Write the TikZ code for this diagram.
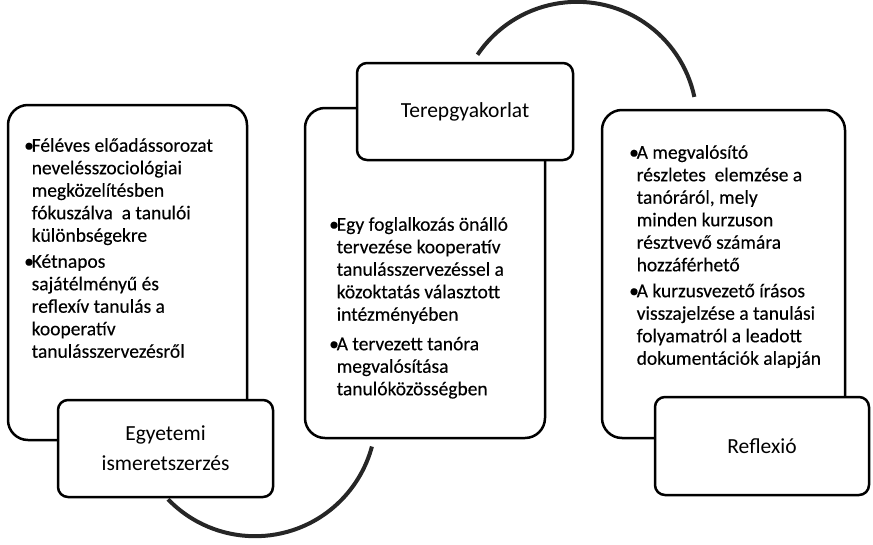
\documentclass[tikz,border=0pt]{standalone}
\usepackage{fontspec}
\setmainfont{Carlito}
\newfontfamily\bodyfont{Carlito}[FakeBold=0.25]
\usetikzlibrary{calc}
\newcommand{\bul}{\makebox[7.5pt][l]{•}}
\newcommand{\ind}{\hspace*{7.5pt}}
\begin{document}
\begin{tikzpicture}[x=1pt,y=-1pt,
  bigbox/.style={draw,line width=2.5pt,rounded corners=20pt,fill=white,inner sep=0pt},
  labelbox/.style={draw,line width=2.5pt,rounded corners=10pt,fill=white,align=center,inner sep=0pt,
    font=\fontsize{21.5}{30}\selectfont},
  bodytext/.style={anchor=north west,align=left,inner sep=0pt,font=\bodyfont\fontsize{19.5}{22.5}\selectfont},
  cyclearc/.style={line width=4pt,draw=black!85}]
\useasboundingbox (0,0) rectangle (873,544);
% big boxes
\node[bigbox,minimum width=239pt,minimum height=335pt] (lbox) at (127.5,272.5) {};
\node[bigbox,minimum width=240pt,minimum height=330pt] (mbox) at (425,273) {};
\node[bigbox,minimum width=243pt,minimum height=328pt] (rbox) at (723.5,274) {};
% label boxes
\node[labelbox,minimum width=215pt,minimum height=97pt] (egy) at (165.5,448.5) {Egyetemi\\ismeretszerzés};
\node[labelbox,minimum width=216pt,minimum height=97pt] (terep) at (465,111.5) {Terepgyakorlat};
\node[labelbox,minimum width=214pt,minimum height=98pt] (refl) at (762,446) {Reflexió};
% body texts
\node[bodytext] (ltext) at (24,138) {\bul Féléves előadássorozat\\
\ind nevelésszociológiai\\
\ind megközelítésben\\
\ind fókuszálva\ \ a tanulói\\
\ind különbségekre\\[3.5pt]
\bul Kétnapos\\
\ind sajátélményű és\\
\ind reflexív tanulás a\\
\ind kooperatív\\
\ind tanulásszervezésről};
\node[bodytext] (mtext) at (329,217) {\bul Egy foglalkozás önálló\\
\ind tervezése kooperatív\\
\ind tanulásszervezéssel a\\
\ind közoktatás választott\\
\ind intézményében\\[7pt]
\bul A tervezett tanóra\\
\ind megvalósítása\\
\ind tanulóközösségben};
\node[bodytext] (rtext) at (629,145) {\bul A megvalósító\\
\ind részletes\ \ elemzése a\\
\ind tanóráról, mely\\
\ind minden kurzuson\\
\ind résztvevő számára\\
\ind hozzáférhető\\[3.5pt]
\bul A kurzusvezető írásos\\
\ind visszajelzése a tanulási\\
\ind folyamatról a leadott\\
\ind dokumentációk alapján};
% connecting arcs
\draw[cyclearc] ([xshift=12.5pt,yshift=7pt]terep.north) arc[start angle=214, end angle=348, radius=120];
\draw[cyclearc] ([xshift=2.5pt,yshift=-1pt]egy.south) arc[start angle=136, end angle=15, radius=121];
\end{tikzpicture}
\end{document}
